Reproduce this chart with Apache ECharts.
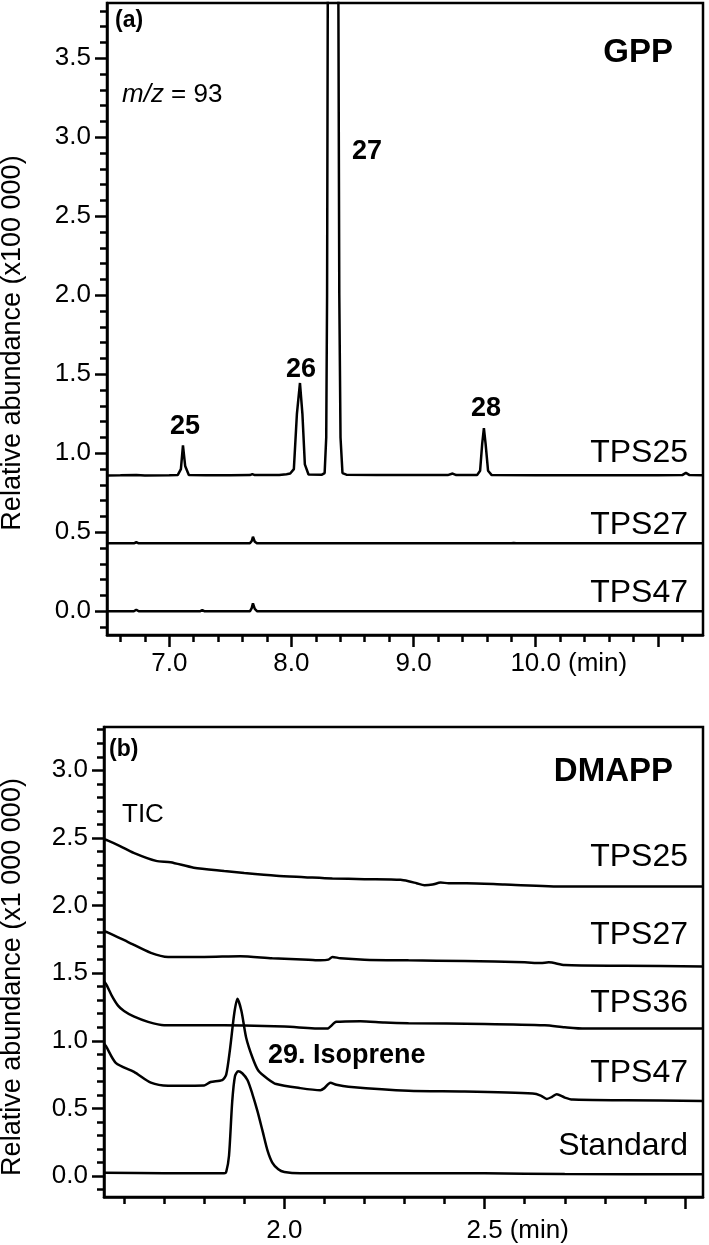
<!DOCTYPE html>
<html>
<head>
<meta charset="utf-8">
<script src="https://cdn.jsdelivr.net/npm/echarts@6/dist/echarts.min.js"></script>
<style>
html,body{margin:0;padding:0;background:#fff;}
#c{width:709px;height:1245px;}
</style>
</head>
<body>
<div id="c"></div>
<script>
// ---------- Panel (a): GPP, m/z = 93 (x100 000), time in min ----------
const gppTPS25 = [[6.49,0.86],[6.60,0.861],[6.73,0.863],[6.80,0.86],[7.00,0.861],[7.07,0.863],[7.095,0.9],[7.112,1.05],[7.13,0.92],[7.16,0.863],[7.30,0.861],[7.50,0.861],[7.66,0.862],[7.68,0.868],[7.70,0.862],[7.90,0.862],[7.96,0.868],[7.99,0.872],[8.02,0.90],[8.045,1.25],[8.07,1.445],[8.09,1.25],[8.11,0.93],[8.14,0.866],[8.25,0.865],[8.272,0.875],[8.285,1.1],[8.292,2.0],[8.298,4.0],[8.34,6.0],[8.384,4.0],[8.392,2.0],[8.402,1.1],[8.418,0.875],[8.45,0.865],[8.70,0.862],[9.00,0.862],[9.28,0.862],[9.32,0.872],[9.35,0.862],[9.52,0.862],[9.545,0.89],[9.562,1.06],[9.576,1.16],[9.59,1.06],[9.61,0.89],[9.64,0.862],[10.00,0.861],[10.50,0.861],[11.00,0.861],[11.20,0.862],[11.23,0.876],[11.26,0.862],[11.37,0.861]];
const gppTPS27 = [[6.49,0.43],[6.71,0.43],[6.73,0.437],[6.75,0.43],[7.66,0.43],[7.675,0.445],[7.685,0.472],[7.70,0.44],[7.72,0.43],[9.80,0.43],[9.82,0.432],[9.84,0.43],[11.37,0.43]];
const gppTPS47 = [[6.49,0.0],[6.71,0.0],[6.73,0.01],[6.75,0.0],[7.25,0.0],[7.27,0.008],[7.29,0.0],[7.66,0.0],[7.675,0.02],[7.685,0.05],[7.70,0.015],[7.72,0.0],[11.37,0.0]];

// ---------- Panel (b): DMAPP, TIC (x1 000 000), time in min ----------
const dmTPS25 = [[1.55,2.49],[1.56,2.48],[1.59,2.44],[1.624,2.39],[1.68,2.33],[1.716,2.32],[1.774,2.28],[1.85,2.255],[1.90,2.24],[1.98,2.22],[2.05,2.21],[2.12,2.20],[2.20,2.195],[2.29,2.19],[2.31,2.18],[2.33,2.165],[2.35,2.15],[2.37,2.155],[2.39,2.17],[2.41,2.165],[2.455,2.165],[2.55,2.155],[2.70,2.14],[2.85,2.14],[3.045,2.14]];
const dmTPS27 = [[1.55,1.81],[1.56,1.80],[1.61,1.73],[1.667,1.65],[1.71,1.62],[1.80,1.62],[1.89,1.625],[1.97,1.61],[2.06,1.60],[2.09,1.595],[2.11,1.60],[2.12,1.62],[2.14,1.61],[2.20,1.60],[2.31,1.595],[2.45,1.59],[2.60,1.58],[2.64,1.575],[2.66,1.58],[2.70,1.56],[2.85,1.555],[3.045,1.55]];
const dmTPS36 = [[1.55,1.44],[1.557,1.41],[1.57,1.33],[1.585,1.26],[1.60,1.22],[1.624,1.18],[1.66,1.14],[1.70,1.115],[1.80,1.115],[1.90,1.113],[2.00,1.105],[2.10,1.09],[2.107,1.09],[2.13,1.14],[2.19,1.145],[2.25,1.135],[2.31,1.13],[2.50,1.125],[2.65,1.115],[2.70,1.10],[2.75,1.09],[3.045,1.09]];
const dmTPS47 = [[1.55,0.98],[1.555,0.96],[1.58,0.835],[1.625,0.77],[1.667,0.69],[1.71,0.668],[1.80,0.67],[1.816,0.695],[1.845,0.71],[1.855,0.75],[1.865,0.95],[1.875,1.2],[1.883,1.31],[1.893,1.22],[1.905,1.02],[1.92,0.88],[1.935,0.78],[1.958,0.72],[1.98,0.68],[2.04,0.65],[2.09,0.635],[2.10,0.65],[2.115,0.69],[2.13,0.675],[2.16,0.66],[2.31,0.63],[2.45,0.625],[2.62,0.61],[2.64,0.595],[2.655,0.57],[2.668,0.585],[2.68,0.605],[2.70,0.58],[2.72,0.565],[2.85,0.56],[3.045,0.555]];
const dmStandard = [[1.55,0.025],[1.70,0.02],[1.85,0.02],[1.855,0.03],[1.862,0.15],[1.87,0.55],[1.877,0.74],[1.885,0.775],[1.895,0.76],[1.908,0.71],[1.92,0.61],[1.933,0.48],[1.946,0.33],[1.958,0.19],[1.97,0.10],[1.985,0.05],[2.00,0.03],[2.04,0.02],[2.50,0.02],[2.70,0.015],[3.045,0.013]];

// ---------- Tick labels ----------
const aYLabels = [0, 0.5, 1.0, 1.5, 2.0, 2.5, 3.0, 3.5];
const aXLabels = [7, 8, 9, 10];
const aXMajor = [7, 8, 9, 10, 11];
const bYLabels = [0, 0.5, 1.0, 1.5, 2.0, 2.5, 3.0];
const bXLabels = [2.0, 2.5];
const bXMajor = [2.0, 2.5, 3.0];

function steps(a, b, s) { const r = []; for (let v = a; v <= b + 1e-9; v += s) r.push(Math.round(v * 1000) / 1000); return r; }
const aYMinor = steps(-0.1, 3.8, 0.1);
const aXMinor = steps(6.6, 11.2, 0.2);
const bYMinor = steps(-0.1, 3.3, 0.1);
const bXMinor = steps(1.6, 3.0, 0.1);

const FF = 'Liberation Sans';
const BLK = '#000';
const AW = 2.5;

function majorX(grid, min, max, labels, ticks, unitAt, margin) {
  return {
    type: 'value', gridIndex: grid, min: min, max: max, position: 'bottom',
    axisLine: { onZero: false, lineStyle: { color: BLK, width: AW } },
    axisTick: { customValues: ticks, length: 12, lineStyle: { color: BLK, width: AW } },
    axisLabel: {
      customValues: labels, margin: margin, color: BLK, fontSize: 26, fontFamily: FF,
      formatter: function (v) {
        const t = v.toFixed(1);
        if (Math.abs(v - unitAt) < 1e-6) return '{p|}{n|' + t + '}{u| (min)}';
        return t;
      },
      rich: {
        p: { width: 66, fontSize: 26, fontFamily: FF },
        n: { fontSize: 26, fontFamily: FF, color: BLK },
        u: { width: 66, fontSize: 26, fontFamily: FF, color: BLK, align: 'left' }
      }
    },
    splitLine: { show: false }
  };
}
function minorX(grid, min, max, ticks) {
  return {
    type: 'value', gridIndex: grid, min: min, max: max, position: 'bottom',
    axisLine: { show: false, onZero: false },
    axisTick: { customValues: ticks, length: 7, lineStyle: { color: BLK, width: AW } },
    axisLabel: { show: false }, splitLine: { show: false }
  };
}
function majorY(grid, min, max, labels) {
  return {
    type: 'value', gridIndex: grid, min: min, max: max, position: 'left',
    axisLine: { onZero: false, lineStyle: { color: BLK, width: AW } },
    axisTick: { customValues: labels, length: 12, lineStyle: { color: BLK, width: AW } },
    axisLabel: { customValues: labels, margin: 16, color: BLK, fontSize: 26, fontFamily: FF,
      formatter: function (v) { return v.toFixed(1); } },
    splitLine: { show: false }
  };
}
function minorY(grid, min, max, ticks) {
  return {
    type: 'value', gridIndex: grid, min: min, max: max, position: 'left',
    axisLine: { show: false, onZero: false },
    axisTick: { customValues: ticks, length: 7, lineStyle: { color: BLK, width: AW } },
    axisLabel: { show: false }, splitLine: { show: false }
  };
}
function line(data, xi, yi, smooth) {
  return { type: 'line', data: data, xAxisIndex: xi, yAxisIndex: yi, showSymbol: false, symbol: 'none',
    smooth: smooth || false, clip: true, lineStyle: { color: BLK, width: 2.5 }, itemStyle: { color: BLK }, silent: true };
}
function txt(text, x, y, size, weight, align, extra) {
  const o = { type: 'text', x: x, y: y, silent: true,
    style: { text: text, fill: BLK, fontSize: size, fontWeight: weight, fontFamily: FF,
      align: align, verticalAlign: 'middle' } };
  if (extra) Object.assign(o, extra);
  return o;
}

const chart = echarts.init(document.getElementById('c'), null, { renderer: 'canvas' });
chart.setOption({
  animation: false,
  backgroundColor: '#fff',
  grid: [
    { left: 107, top: 3, right: 6, height: 632, show: true, borderColor: BLK, borderWidth: AW, backgroundColor: 'transparent' },
    { left: 104, top: 727, right: 6, height: 470, show: true, borderColor: BLK, borderWidth: AW, backgroundColor: 'transparent' }
  ],
  xAxis: [
    majorX(0, 6.49, 11.37, aXLabels, aXMajor, 10, 16),
    minorX(0, 6.49, 11.37, aXMinor),
    majorX(1, 1.55, 3.045, bXLabels, bXMajor, 2.5, 21),
    minorX(1, 1.55, 3.045, bXMinor)
  ],
  yAxis: [
    majorY(0, -0.15, 3.85, aYLabels),
    minorY(0, -0.15, 3.85, aYMinor),
    majorY(1, -0.155, 3.32, bYLabels),
    minorY(1, -0.155, 3.32, bYMinor)
  ],
  series: [
    line(gppTPS25, 0, 0), line(gppTPS27, 0, 0), line(gppTPS47, 0, 0),
    line(dmTPS25, 2, 2, 0.25), line(dmTPS27, 2, 2, 0.25), line(dmTPS36, 2, 2, 0.25), line(dmTPS47, 2, 2, 0.25), line(dmStandard, 2, 2, 0.25)
  ],
  graphic: [
    txt('Relative abundance (x100 000)', 13, 343, 27, 'normal', 'center', { rotation: Math.PI / 2 }),
    txt('Relative abundance (x1 000 000)', 13, 977, 27, 'normal', 'center', { rotation: Math.PI / 2 }),
    txt('(a)', 115, 21, 23, 'bold', 'left'),
    txt('GPP', 673, 53, 33, 'bold', 'right'),
    { type: 'text', x: 122, y: 95, silent: true,
      style: { text: '{i|m/z} = 93', fill: BLK, fontSize: 26, fontFamily: FF, align: 'left', verticalAlign: 'middle',
        rich: { i: { fontStyle: 'italic', fontSize: 26, fontFamily: FF, fill: BLK } } } },
    txt('27', 352, 152, 27, 'bold', 'left'),
    txt('26', 301, 370, 27, 'bold', 'center'),
    txt('25', 185, 427, 27, 'bold', 'center'),
    txt('28', 486, 409, 27, 'bold', 'center'),
    txt('TPS25', 688, 453, 32, 'normal', 'right'),
    txt('TPS27', 688, 525, 32, 'normal', 'right'),
    txt('TPS47', 688, 593, 32, 'normal', 'right'),
    txt('(b)', 109, 750, 23, 'bold', 'left'),
    txt('DMAPP', 673, 772, 33, 'bold', 'right'),
    txt('TIC', 122, 815, 26, 'normal', 'left'),
    txt('TPS25', 688, 857, 32, 'normal', 'right'),
    txt('TPS27', 688, 935, 32, 'normal', 'right'),
    txt('TPS36', 688, 1003, 32, 'normal', 'right'),
    txt('TPS47', 688, 1073, 32, 'normal', 'right'),
    txt('Standard', 688, 1146, 32, 'normal', 'right'),
    txt('29. Isoprene', 268, 1056, 27, 'bold', 'left')
  ]
});
</script>
</body>
</html>
